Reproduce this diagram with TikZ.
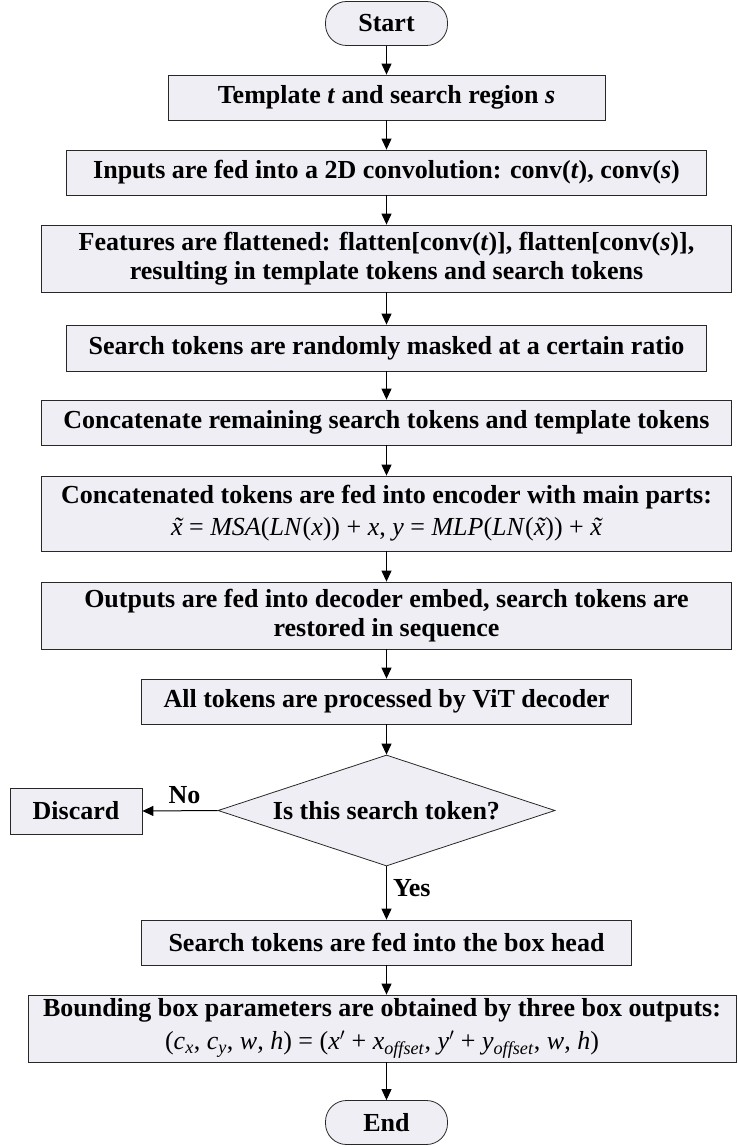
\documentclass[tikz,border=0pt]{standalone}
\usepackage{fontspec}
\setmainfont{Liberation Serif}
\usetikzlibrary{arrows.meta,shapes.geometric}
\definecolor{boxfill}{RGB}{239,238,244}
\definecolor{edge}{RGB}{40,40,40}
% italic x with a tilde set above it
\newcommand{\tx}{\ooalign{\textit{x}\cr\hidewidth\kern0.12em\textit{\char"02DC}\hidewidth\cr}}
\newcommand{\pr}{\ensuremath{'}}
\begin{document}
\begin{tikzpicture}[x=1pt,y=-1pt,
  base/.style={draw=edge, fill=boxfill, line width=0.8pt, align=center, inner sep=0pt,
    font=\bfseries\fontsize{26}{29}\selectfont},
  stepbox/.style={base, rectangle},
  terminal/.style={base, rectangle, rounded corners=21pt, minimum width=122pt, minimum height=44pt},
  decision/.style={base, diamond, aspect=3, minimum width=337pt, minimum height=111pt},
  lbl/.style={font=\bfseries\fontsize{26}{29}\selectfont, inner sep=2pt},
  arr/.style={line width=1pt, draw=black, -{Triangle[length=11pt,width=10pt]}}
]
\useasboundingbox (0,0) rectangle (737,1147);

\node[terminal] (start) at (386.5,23.5) {Start};
\node[stepbox, minimum width=437pt, minimum height=45pt] (b1) at (386.5,97.5)
  {Template \textit{t} and search region \textit{s}};
\node[stepbox, minimum width=640pt, minimum height=45pt] (b2) at (386.5,172.5)
  {Inputs are fed into a 2D convolution: conv(\textit{t}), conv(\textit{s})};
\node[stepbox, minimum width=690pt, minimum height=67pt] (b3) at (386.5,258.5)
  {Features are flattened: flatten[conv(\textit{t})], flatten[conv(\textit{s})],\\
   resulting in template tokens and search tokens};
\node[stepbox, minimum width=640pt, minimum height=46pt] (b4) at (386.5,348)
  {Search tokens are randomly masked at a certain ratio};
\node[stepbox, minimum width=690pt, minimum height=45pt] (b5) at (386.5,422.5)
  {Concatenate remaining search tokens and template tokens};
\node[stepbox, minimum width=690pt, minimum height=75pt] (b6) at (386.5,513.5)
  {Concatenated tokens are fed into encoder with main parts:\\[3pt]
   {\mdseries \tx{} = \textit{MSA}(\textit{LN}(\textit{x})) + \textit{x}, \textit{y} = \textit{MLP}(\textit{LN}(\tx)) + \tx}};
\node[stepbox, minimum width=690pt, minimum height=67pt] (b7) at (386.5,615.5)
  {Outputs are fed into decoder embed, search tokens are\\
   restored in sequence};
\node[stepbox, minimum width=490pt, minimum height=45pt] (b8) at (386.5,701.5)
  {All tokens are processed by ViT decoder};
\node[decision] (dec) at (386.5,810.5) {Is this search token?};
\node[stepbox, minimum width=132pt, minimum height=46pt] (discard) at (76,811) {Discard};
\node[stepbox, minimum width=490pt, minimum height=45pt] (b9) at (386.5,942.5)
  {Search tokens are fed into the box head};
\node[stepbox, minimum width=708pt, minimum height=67pt] (b10) at (382,1028.5)
  {Bounding box parameters are obtained by three box outputs:\\[4pt]
   {\mdseries (\textit{c}\textsubscript{\textit{x}}, \textit{c}\textsubscript{\textit{y}}, \textit{w}, \textit{h}) =
    (\textit{x}\pr{} + \textit{x}\textsubscript{\textit{offset}}, \textit{y}\pr{} + \textit{y}\textsubscript{\textit{offset}}, \textit{w}, \textit{h})}};
\node[terminal] (end) at (386.5,1122.5) {End};

% main flow
\draw[arr] (start) -- (b1);
\draw[arr] (b1) -- (b2);
\draw[arr] (b2) -- (b3);
\draw[arr] (b3) -- (b4);
\draw[arr] (b4) -- (b5);
\draw[arr] (b5) -- (b6);
\draw[arr] (b6) -- (b7);
\draw[arr] (b7) -- (b8);
\draw[arr] (b8) -- (dec);
\draw[arr] (dec.west) -- (discard.east) node[lbl, above, pos=0.44, yshift=4pt] (no) {No};
\draw[arr] (dec.south) -- (b9.north) node[lbl, right, pos=0.4, xshift=4pt] (yes) {Yes};
\draw[arr] (b9.south) -- (b9.south |- b10.north);
\draw[arr] (b10.south -| end.north) -- (end);
\end{tikzpicture}
\end{document}
